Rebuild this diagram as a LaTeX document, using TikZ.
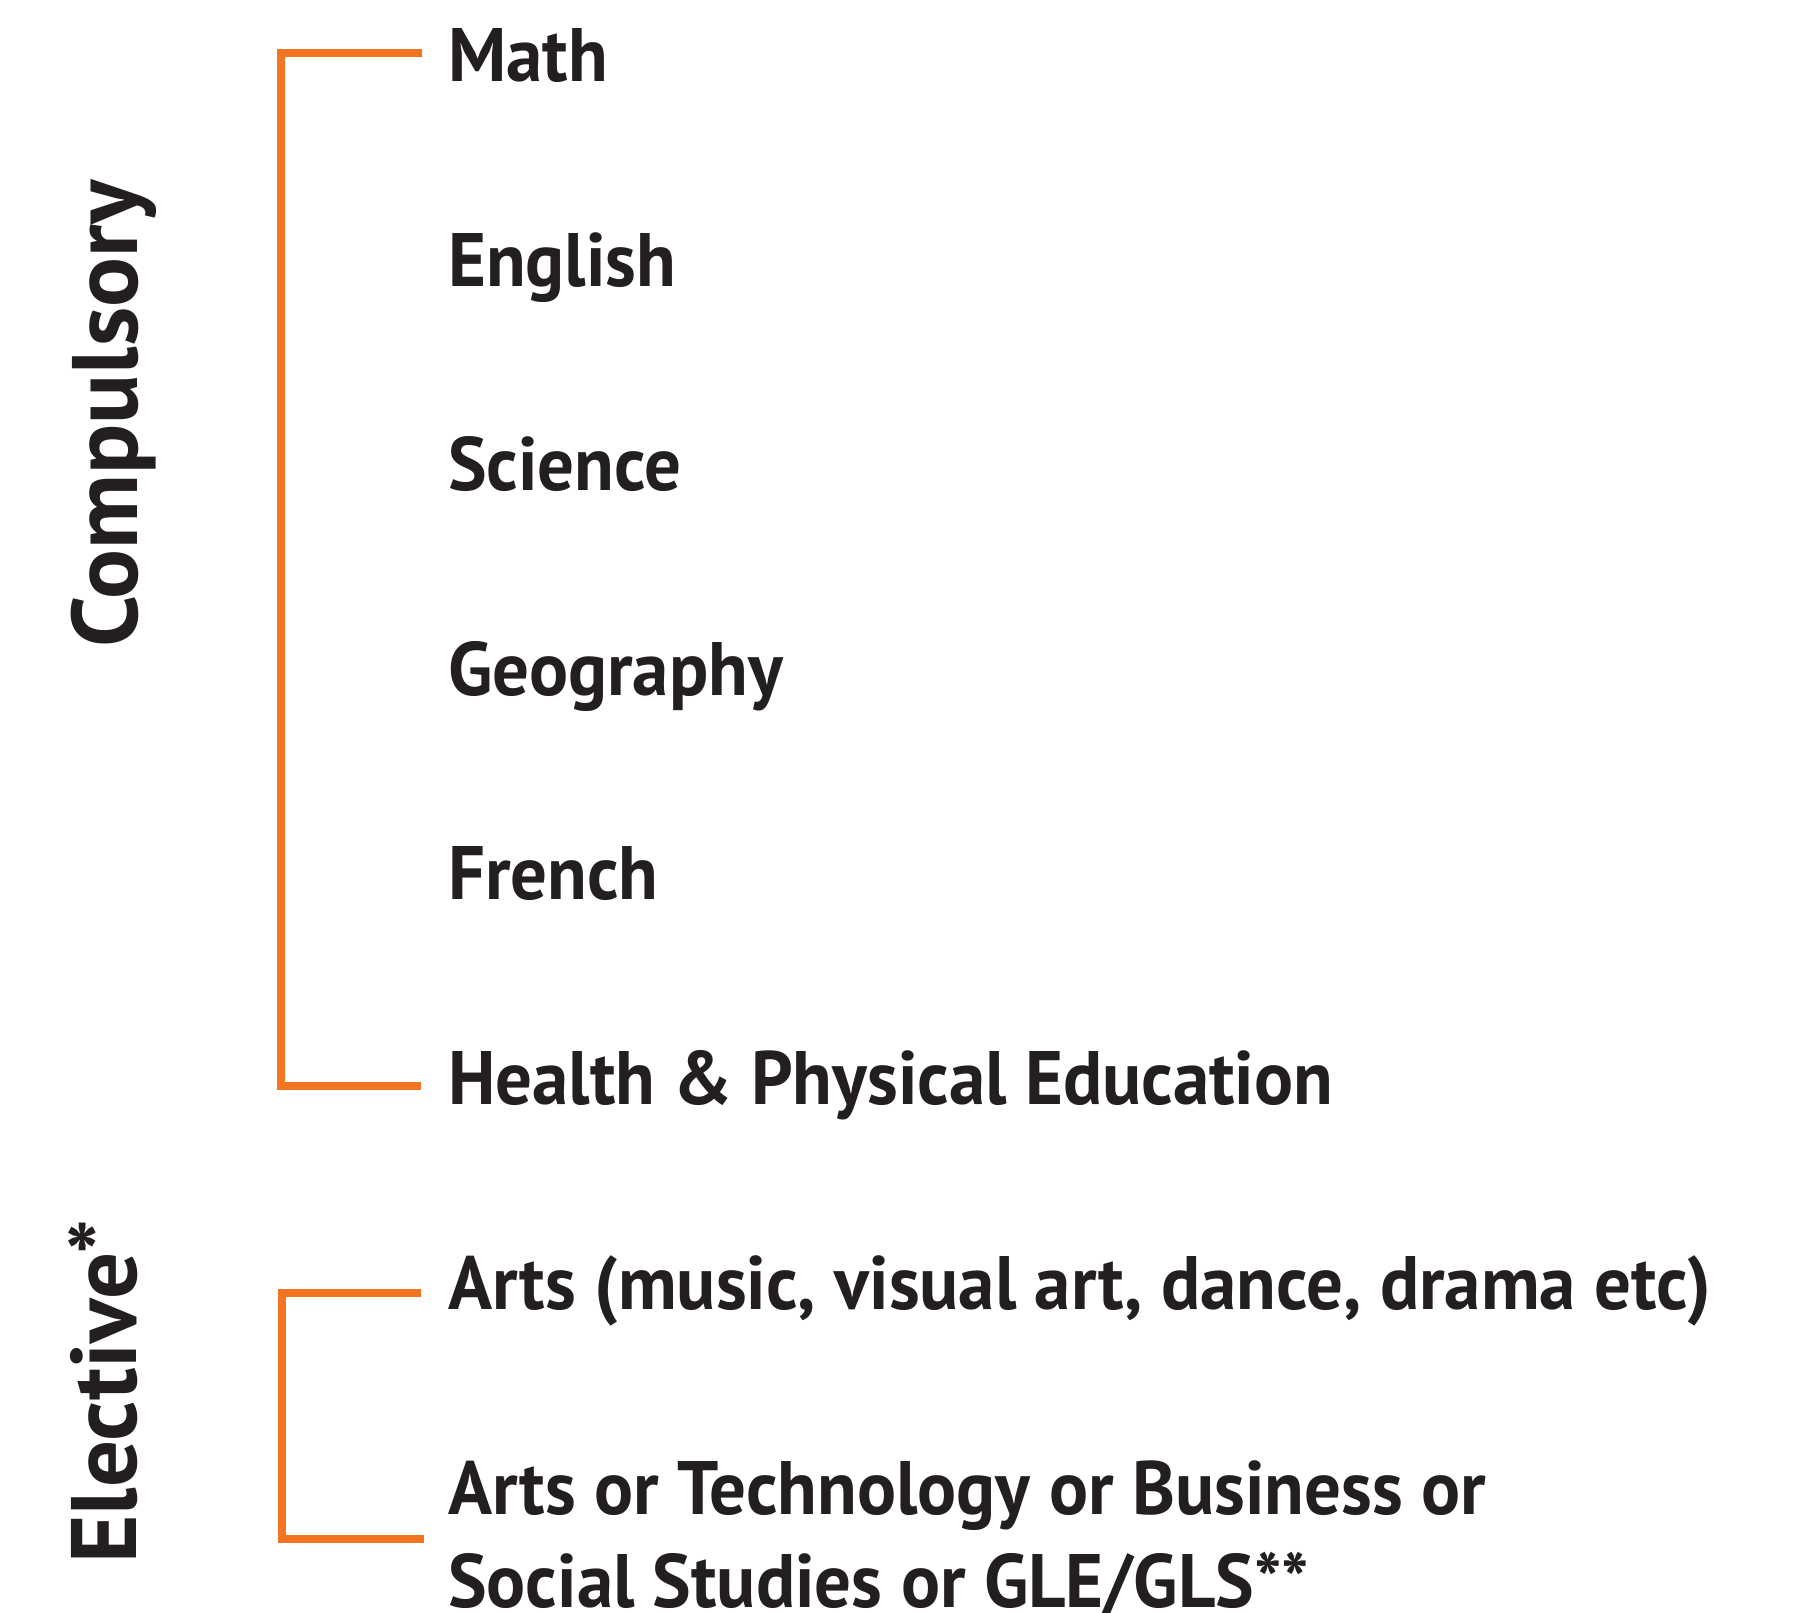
\documentclass[tikz,border=0pt]{standalone}
\usepackage{fontspec}
\setmainfont{PT Sans}
\newfontfamily\itemfont{PT Sans}[FakeStretch=0.962]
\definecolor{txt}{HTML}{231F20}
\definecolor{brk}{HTML}{F47521}
\tikzset{
  item/.style={anchor=base west, inner sep=0pt, text=txt, font=\itemfont\bfseries\fontsize{75.7}{93}\selectfont},
  side/.style={anchor=base west, inner sep=0pt, text=txt, rotate=90, font=\bfseries\fontsize{93}{110}\selectfont},
  bracket/.style={draw=brk, line width=8pt, line join=miter, line cap=butt}
}
\begin{document}
\begin{tikzpicture}[x=1pt,y=-1pt]
\useasboundingbox (0,0) rectangle (1799,1613);
\node[item] (math) at (448,81.7) {Math};
\node[item] (eng) at (448,286.2) {English};
\node[item] (sci) at (448,490.7) {Science};
\node[item] (geo) at (448,695.2) {Geography};
\node[item] (fre) at (448,899.7) {French};
\node[item] (hpe) at (448,1104.3) {Health \& Physical Education};
\node[item] (arts) at (448,1309.3) {Arts (music, visual art, dance, drama etc)};
\node[item, align=left] (opt) at (448,1607) {Arts or Technology or Business or\\Social Studies or GLE/GLS**};
\node[side] (comp) at (137.6,648) {Compulsory};
\node[side] (elec) at (136,1564) {Elective*};
\coordinate (c1) at (422,53);
\coordinate (c2) at (281,53);
\coordinate (c3) at (281,1085.5);
\coordinate (c4) at (421,1085.5);
\coordinate (e1) at (421,1293);
\coordinate (e2) at (282,1293);
\coordinate (e3) at (282,1539);
\coordinate (e4) at (424,1539);
\draw[bracket] (c1) -- (c2) -- (c3) -- (c4);
\draw[bracket] (e1) -- (e2) -- (e3) -- (e4);
\end{tikzpicture}
\end{document}
